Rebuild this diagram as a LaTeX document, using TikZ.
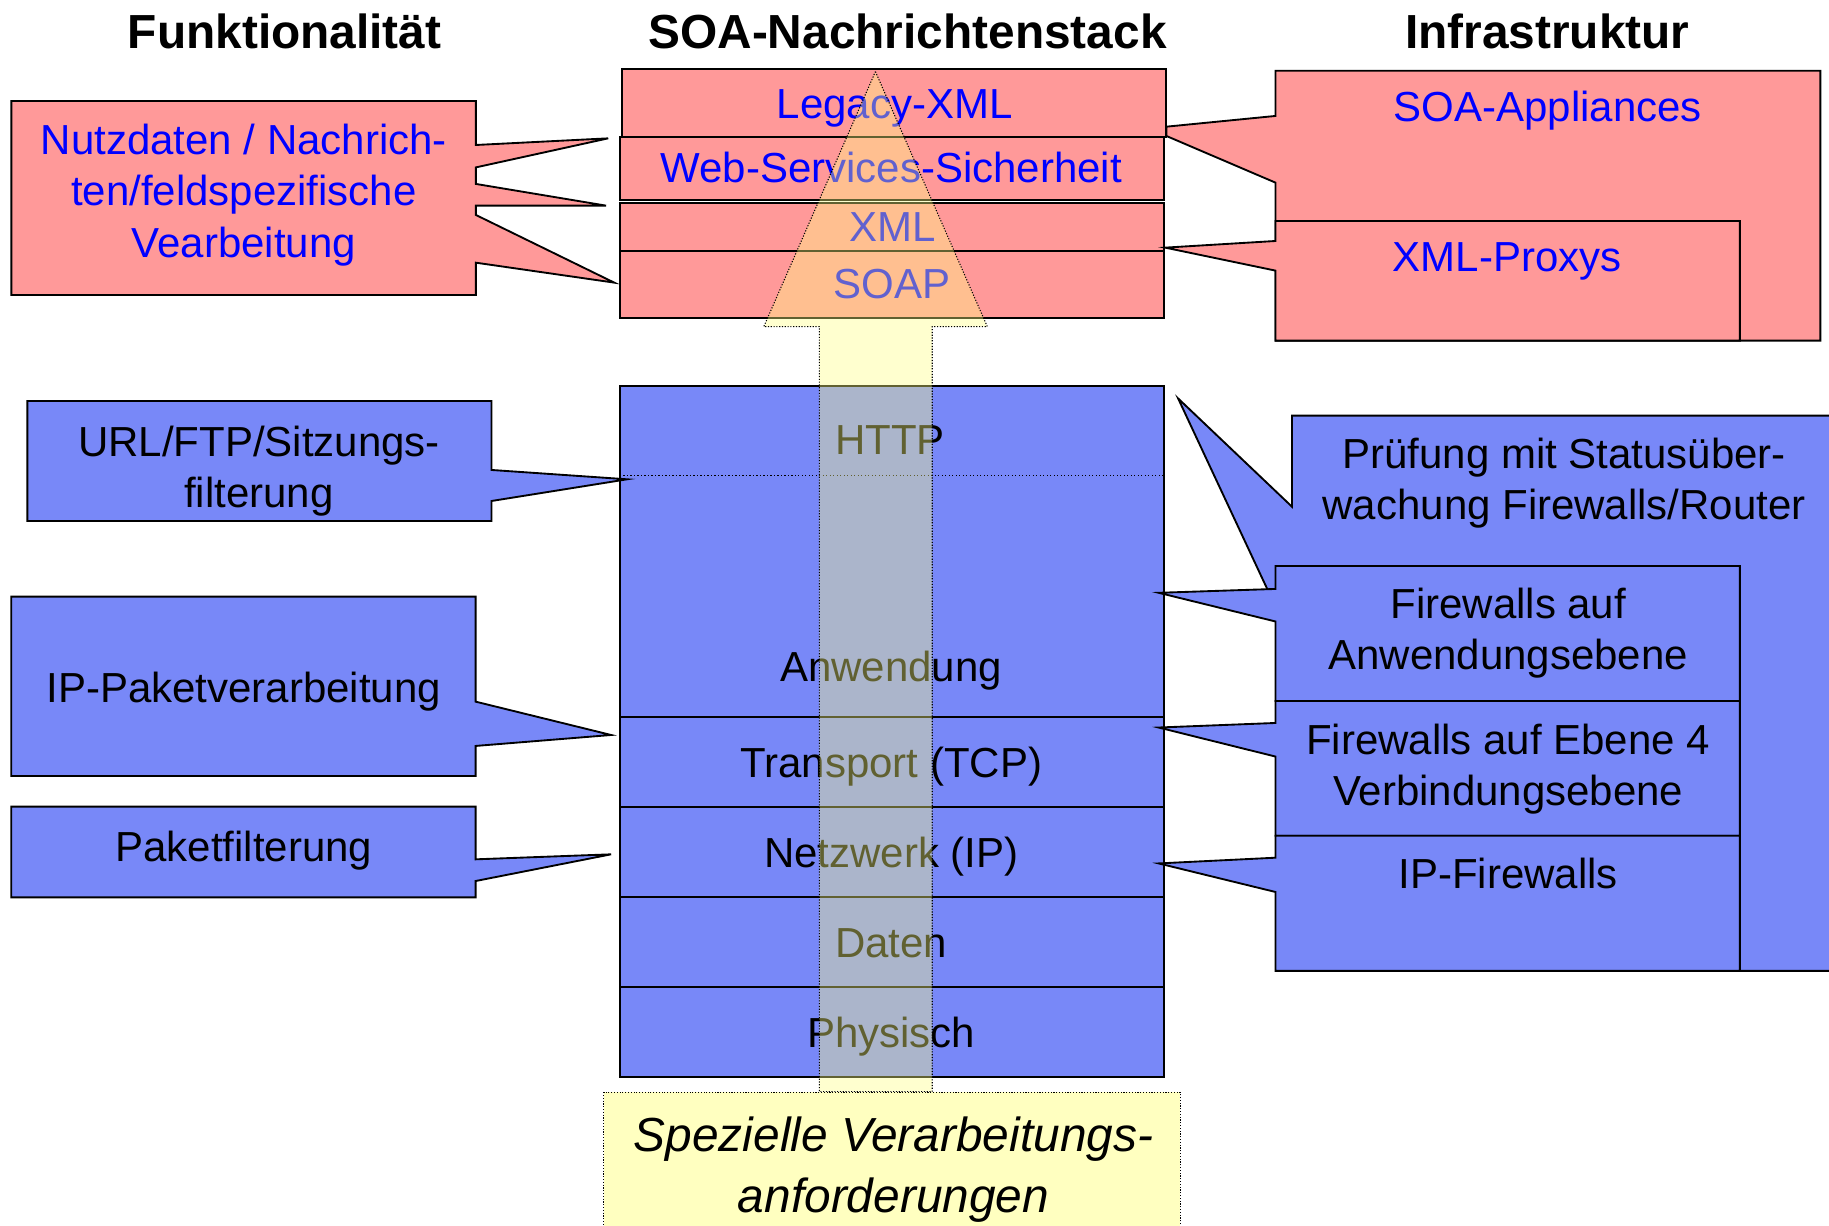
\documentclass[tikz,border=0pt]{standalone}
\usepackage{fontspec}
\setmainfont{Liberation Sans}
\definecolor{pinkfill}{RGB}{255,153,153}
\definecolor{bluefill}{RGB}{120,136,248}
\definecolor{txtblue}{RGB}{0,0,255}
\definecolor{arrowfill}{RGB}{255,255,130}
\definecolor{notefill}{RGB}{255,255,192}
% invisible strut: full ascender/descender height of one line
\newcommand{\lnstrut}{\rule[-0.212em]{0pt}{1.117em}}

\begin{document}
\begin{tikzpicture}[x=1pt,y=-1pt,
  lbl/.style={font=\fontsize{36}{44}\selectfont, inner sep=0pt, align=center},
  bluetxt/.style={text=txtblue},
  ttl/.style={font=\fontsize{41}{49}\selectfont\bfseries, anchor=base, inner sep=0pt},
  pinkbox/.style={draw=black, fill=pinkfill, line width=1.6pt, line join=miter},
  bluebox/.style={draw=black, fill=bluefill, line width=1.6pt, line join=miter},
  flow/.style={draw=black, line width=0.9pt, dash pattern=on 1pt off 1.4pt,
               fill=arrowfill, fill opacity=0.38},
  notebox/.style={draw=black, line width=0.9pt, dash pattern=on 1pt off 1.4pt, fill=notefill}
]
\useasboundingbox (0,0) rectangle (1568,1051);

% ---------- column titles ----------
\node[ttl] (tfunk)  at (244,41.4)   {Funktionalität};
\node[ttl] (tstack) at (778,41.4)   {SOA-Nachrichtenstack};
\node[ttl] (tinfra) at (1326.5,41.4) {Infrastruktur};

% ---------- network layers (blue) ----------
\path[bluebox] (531.4,330.9) rectangle (997.6,614.4);
\draw[line width=1pt, dash pattern=on 1pt off 2pt] (531.4,407.8) -- (997.6,407.8);
\path[bluebox] (531.4,614.4) rectangle (997.6,691.5);
\path[bluebox] (531.4,691.5) rectangle (997.6,768.7);
\path[bluebox] (531.4,768.7) rectangle (997.6,845.9);
\path[bluebox] (531.4,845.9) rectangle (997.6,923.0);

% ---------- message layers (pink) ----------
\path[pinkbox] (533.4,59.4)  rectangle (999.9,117.2);
\path[pinkbox] (531.4,117.2) rectangle (997.6,171.5);
\path[pinkbox] (531.4,174.3) rectangle (997.6,214.9);
\path[pinkbox] (531.4,214.9) rectangle (997.6,272.9);

% ---------- layer labels ----------
\node[lbl,bluetxt] (legacy) at (767,88.9)    {\lnstrut Legacy-XML};
\node[lbl,bluetxt] (wssec)  at (764,144)     {\lnstrut Web-Services-Sicherheit};
\node[lbl,bluetxt] (xml)    at (765,194.6)   {\lnstrut XML};
\node[lbl,bluetxt] (soap)   at (764.5,243.5) {\lnstrut SOAP};
\node[lbl] (http)  at (763,376.9) {\lnstrut HTTP};
\node[lbl] (anw)   at (764,571.5) {\lnstrut Anwendung};
\node[lbl] (tcp)   at (764,654.4) {\lnstrut Transport (TCP)};
\node[lbl] (ip)    at (764,731.5) {\lnstrut Netzwerk (IP)};
\node[lbl] (daten) at (764,808.7) {\lnstrut Daten};
\node[lbl] (phys)  at (764,885.8) {\lnstrut Physisch};

% ---------- upward processing arrow ----------
\path[flow] (750.5,61.4) -- (846.4,280) -- (799.2,280) -- (799.2,935.9)
  -- (702.4,935.9) -- (702.4,280) -- (654.8,280) -- cycle;

% ---------- left callouts ----------
\path[pinkbox] (9.8,86.6) -- (408,86.6) -- (408,124.3) -- (521.4,118.6) -- (408,143.5)
  -- (408,157.7) -- (519.6,176.3) -- (408,176.3) -- (408,184.3) -- (526.6,242.3)
  -- (408,225.2) -- (408,252.9) -- (9.8,252.9) -- cycle;
\path[bluebox] (23.5,343.8) -- (421.4,343.8) -- (421.4,402.9) -- (537.6,410.9)
  -- (421.4,429.5) -- (421.4,446.6) -- (23.5,446.6) -- cycle;
\path[bluebox] (9.7,511.5) -- (407.7,511.5) -- (407.7,601.5) -- (523.9,630.1)
  -- (407.7,639.5) -- (407.7,665.3) -- (9.7,665.3) -- cycle;
\path[bluebox] (9.7,691.5) -- (407.7,691.5) -- (407.7,736.7) -- (523.9,732.4)
  -- (407.7,755.3) -- (407.7,769.3) -- (9.7,769.3) -- cycle;

% ---------- right callouts ----------
\path[pinkbox] (1093.5,60.6) -- (1560.6,60.6) -- (1560.6,292) -- (1093.5,292)
  -- (1093.5,156.6) -- (1000,116.6) -- (1000,108.6) -- (1093.5,99.4) -- cycle;
\path[pinkbox] (1093.5,189.5) -- (1491.6,189.5) -- (1491.6,292) -- (1093.5,292)
  -- (1093.5,232) -- (998.9,212.3) -- (1093.5,206.6) -- cycle;
\path[bluebox] (1107.6,356.3) -- (1575,356.3) -- (1575,832.3) -- (1107.6,832.3)
  -- (1107.6,550.3) -- (1010,341.6) -- (1107.6,434.4) -- cycle;
\path[bluebox] (1093.5,485.2) -- (1491.6,485.2) -- (1491.6,601) -- (1093.5,601)
  -- (1093.5,532.8) -- (993.3,508.2) -- (1093.5,504.9) -- cycle;
\path[bluebox] (1093.5,601) -- (1491.6,601) -- (1491.6,716.5) -- (1093.5,716.5)
  -- (1093.5,648.6) -- (993.3,623.7) -- (1093.5,619.8) -- cycle;
\path[bluebox] (1093.5,716.5) -- (1491.6,716.5) -- (1491.6,832.3) -- (1093.5,832.3)
  -- (1093.5,764.7) -- (993.3,740.2) -- (1093.5,735.3) -- cycle;

% ---------- callout texts ----------
\node[lbl,bluetxt] (nutz) at (209,163.9)
  {\lnstrut Nutzdaten / Nachrich-\\\lnstrut ten/feldspezifische\\\lnstrut Vearbeitung};
\node[lbl] (url)  at (222,401)   {\lnstrut URL/FTP/Sitzungs-\\\lnstrut filterung};
\node[lbl] (ipp)  at (209,589.4) {\lnstrut IP-Paketverarbeitung};
\node[lbl] (pf)   at (209,725.8) {\lnstrut Paketfilterung};
\node[lbl,bluetxt] (soaapp) at (1327,92)    {\lnstrut SOA-Appliances};
\node[lbl,bluetxt] (proxys) at (1292,220.6) {\lnstrut XML-Proxys};
\node[lbl] (pruef) at (1341,411)
  {\lnstrut Prüfung mit Statusüber-\\\lnstrut wachung Firewalls/Router};
\node[lbl] (fwapp) at (1293,539.5) {\lnstrut Firewalls auf\\\lnstrut Anwendungsebene};
\node[lbl] (fwl4)  at (1293,656)   {\lnstrut Firewalls auf Ebene 4\\\lnstrut Verbindungsebene};
\node[lbl] (fwip)  at (1293,749.3) {\lnstrut IP-Firewalls};

% ---------- special processing requirements ----------
\path[notebox] (517.5,936.4) rectangle (1011.8,1065);
\node[inner sep=0pt, align=center, font=\fontsize{41}{52}\selectfont\itshape] (spez) at (766,999)
  {\lnstrut Spezielle Verarbeitungs-\\\lnstrut anforderungen};
\end{tikzpicture}
\end{document}
